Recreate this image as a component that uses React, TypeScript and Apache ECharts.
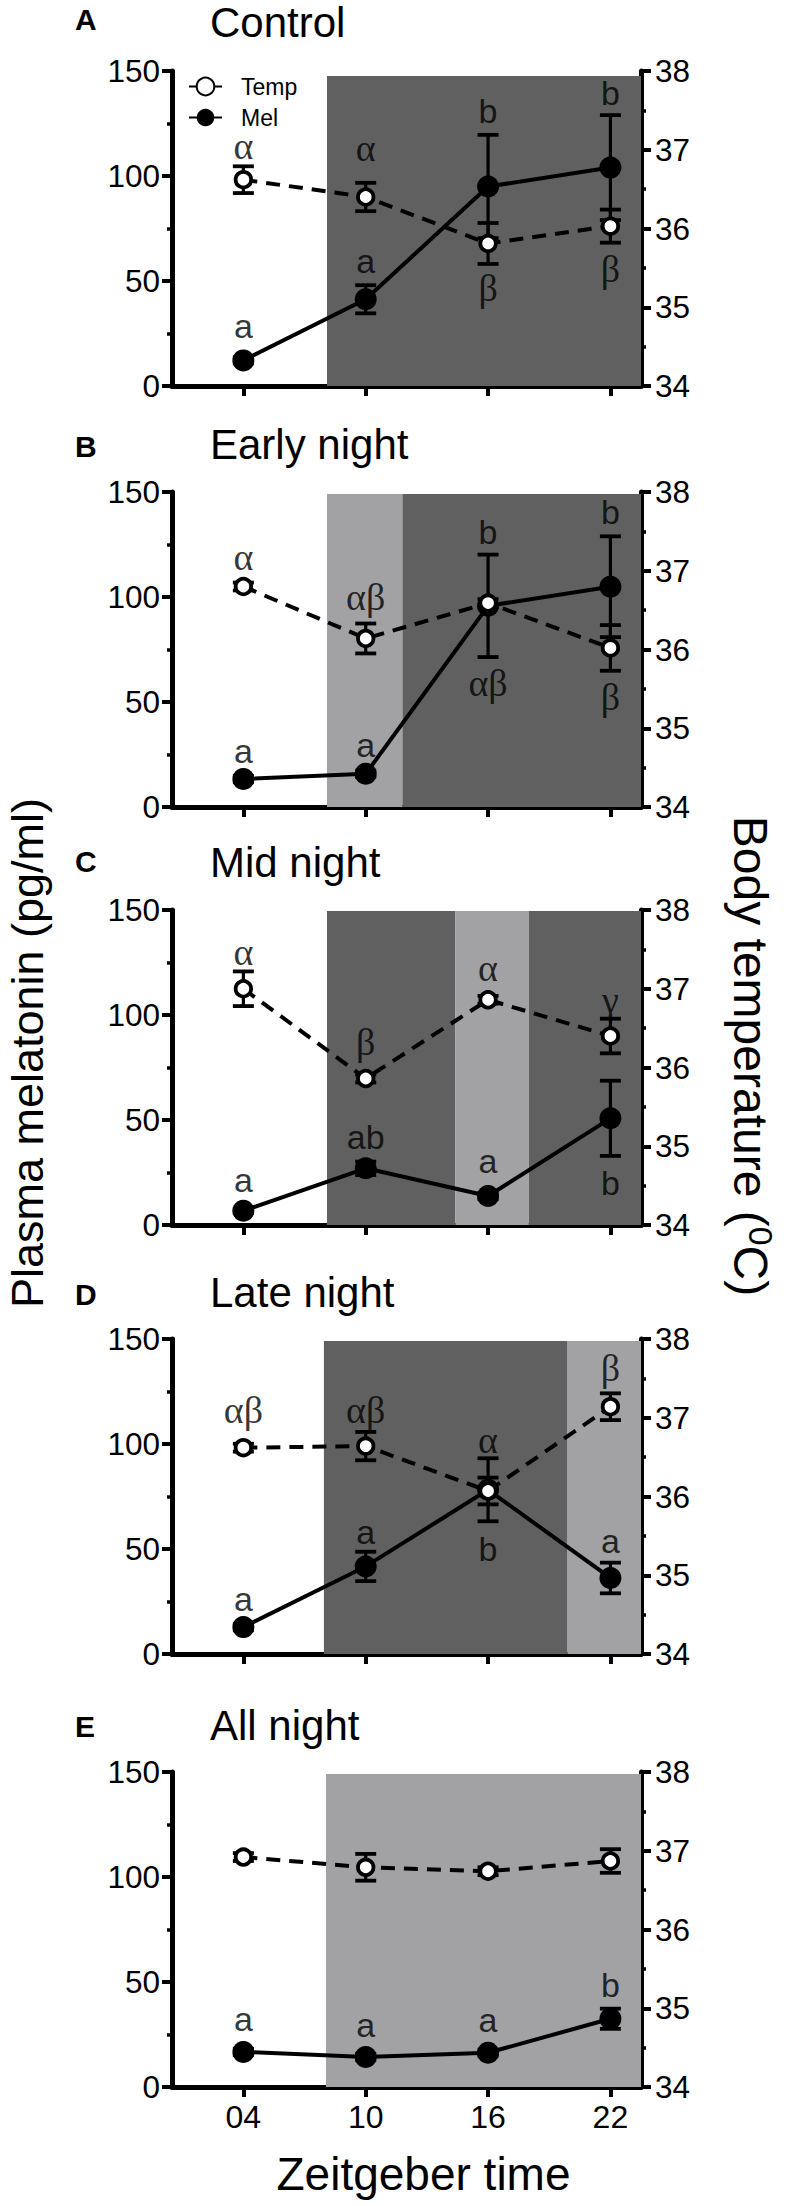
import React, { useEffect, useRef } from "react";
import * as echarts from "echarts";

// ---------- data ----------
const zt = [4, 10, 16, 22];
const ztLabels = ["04", "10", "16", "22"];
const panelLetters = ["A", "B", "C", "D", "E"];
const panelTitles = ["Control", "Early night", "Mid night", "Late night", "All night"];

// Plasma melatonin (pg/ml), mean and SEM
const melA = [12.2, 41.3, 95.0, 104.0];
const melErrA = [1.5, 6.7, 24.6, 25.0];
const melB = [13.3, 15.8, 95.8, 104.9];
const melErrB = [1.5, 1.5, 24.4, 24.0];
const melC = [6.8, 27.0, 13.8, 50.8];
const melErrC = [1.0, 3.2, 1.5, 17.9];
const melD = [12.8, 41.7, 78.2, 36.2];
const melErrD = [1.5, 7.0, 15.0, 7.3];
const melE = [16.7, 14.3, 16.3, 32.5];
const melErrE = [1.5, 1.5, 1.5, 4.8];

// Body temperature (°C), mean and SEM
const tempA = [36.62, 36.4, 35.81, 36.03];
const tempErrA = [0.17, 0.18, 0.26, 0.21];
const tempB = [36.8, 36.14, 36.59, 36.02];
const tempErrB = [0.05, 0.19, 0.05, 0.29];
const tempC = [37.0, 35.86, 36.86, 36.4];
const tempErrC = [0.22, 0.05, 0.05, 0.22];
const tempD = [36.62, 36.64, 36.07, 37.14];
const tempErrD = [0.05, 0.18, 0.17, 0.17];
const tempE = [36.92, 36.79, 36.74, 36.87];
const tempErrE = [0.05, 0.17, 0.05, 0.15];

// significance letters (position given in melatonin-axis units)
const melLettersA = ["a", "a", "b", "b"];
const melLetterYA = [28.6, 59.5, 131, 139.7];
const melLettersB = ["a", "a", "b", "b"];
const melLetterYB = [26.8, 29.6, 131, 140.5];
const melLettersC = ["a", "ab", "a", "b"];
const melLetterYC = [21.4, 42.1, 30.6, 20.2];
const melLettersD = ["a", "a", "b", "a"];
const melLetterYD = [26.2, 58.3, 49.9, 53.6];
const melLettersE = ["a", "a", "a", "b"];
const melLetterYE = [32.5, 29.4, 31.7, 48.4];

const tempLettersA = ["α", "α", "β", "β"];
const tempLetterYA = [114.3, 113.5, 46.8, 55.6];
const tempLettersB = ["α", "αβ", "αβ", "β"];
const tempLetterYB = [119.1, 100.1, 58.9, 52.6];
const tempLettersC = ["α", "β", "α", "γ"];
const tempLetterYC = [130.2, 87.3, 122.2, 107.1];
const tempLettersD = ["αβ", "αβ", "α", "β"];
const tempLetterYD = [116.2, 116.2, 102, 136.1];
const tempLettersE: string[] = [];
const tempLetterYE: number[] = [];

// shaded periods [start ZT, end ZT, kind]
const shadeA = [[8.1, 23.5, "dark"]];
const shadeB = [[8.1, 11.8, "light"], [11.8, 23.5, "dark"]];
const shadeC = [[8.1, 14.4, "dark"], [14.4, 18.0, "light"], [18.0, 23.5, "dark"]];
const shadeD = [[7.95, 19.9, "dark"], [19.9, 23.5, "light"]];
const shadeE = [[8.05, 23.5, "light"]];

// ---------- layout / style ----------
const FONT = "'Liberation Sans', Arial, Helvetica, sans-serif";
const SERIF = "'Liberation Serif', 'Times New Roman', serif";
const DARK = "#606060";
const LIGHT = "#a2a2a5";
const TOPS = [71, 492, 910, 1339, 1772];
const GRID_LEFT = 172;
const GRID_W = 469;
const GRID_H = 315;
const LETTER_BASE = [41, 35, 38, 34, 35];
const TITLE_BASE = [34, 33, 33, 32, 32];
const SHADE_TOP = [147.6, 149, 149.5, 149, 149];

const panels = [
  { mel: melA, melErr: melErrA, temp: tempA, tempErr: tempErrA, ml: melLettersA, my: melLetterYA, tl: tempLettersA, ty: tempLetterYA, shade: shadeA },
  { mel: melB, melErr: melErrB, temp: tempB, tempErr: tempErrB, ml: melLettersB, my: melLetterYB, tl: tempLettersB, ty: tempLetterYB, shade: shadeB },
  { mel: melC, melErr: melErrC, temp: tempC, tempErr: tempErrC, ml: melLettersC, my: melLetterYC, tl: tempLettersC, ty: tempLetterYC, shade: shadeC },
  { mel: melD, melErr: melErrD, temp: tempD, tempErr: tempErrD, ml: melLettersD, my: melLetterYD, tl: tempLettersD, ty: tempLetterYD, shade: shadeD },
  { mel: melE, melErr: melErrE, temp: tempE, tempErr: tempErrE, ml: melLettersE, my: melLetterYE, tl: tempLettersE, ty: tempLetterYE, shade: shadeE },
];

function errSeries(i: number, yIdx: number, vals: number[], errs: number[]) {
  return {
    type: "custom",
    xAxisIndex: i,
    yAxisIndex: yIdx,
    z: 2,
    silent: true,
    data: zt.map((x, j) => [x, vals[j], errs[j]]),
    encode: { x: 0, y: 1 },
    renderItem: (_params: any, api: any) => {
      const x = api.value(0);
      const y = api.value(1);
      const e = api.value(2);
      const t = api.coord([x, y + e]);
      const b = api.coord([x, y - e]);
      const hw = 10.5;
      return {
        type: "group",
        children: [
          { type: "line", shape: { x1: t[0], y1: t[1], x2: b[0], y2: b[1] }, style: { stroke: "#000", lineWidth: 3.2 } },
          { type: "line", shape: { x1: t[0] - hw, y1: t[1], x2: t[0] + hw, y2: t[1] }, style: { stroke: "#000", lineWidth: 3.8 } },
          { type: "line", shape: { x1: b[0] - hw, y1: b[1], x2: b[0] + hw, y2: b[1] }, style: { stroke: "#000", lineWidth: 3.8 } },
        ],
      };
    },
  };
}

function buildOption() {
  const grid = panels.map((_, i) => ({ left: GRID_LEFT, top: TOPS[i], width: GRID_W, height: GRID_H }));
  const xAxis = panels.map((_, i) => ({
    type: "value",
    gridIndex: i,
    min: 0.5,
    max: 23.5,
    axisLine: { show: true, onZero: false, lineStyle: { color: "#000", width: 5 } },
    axisTick: { show: true, customValues: zt, length: 10, lineStyle: { color: "#000", width: 4 } },
    axisLabel: {
      show: i === 4,
      customValues: zt,
      formatter: (v: number) => {
        const k = zt.indexOf(Math.round(v));
        return k >= 0 ? ztLabels[k] : "";
      },
      fontSize: 32,
      fontFamily: FONT,
      color: "#000",
      margin: 14,
    },
    splitLine: { show: false },
  }));
  const yAxis: any[] = [];
  panels.forEach((_, i) => {
    yAxis.push({
      type: "value",
      gridIndex: i,
      position: "left",
      min: 0,
      max: 150,
      interval: 50,
      axisLine: { show: true, onZero: false, lineStyle: { color: "#000", width: 5 } },
      axisTick: { show: true, length: 10, lineStyle: { color: "#000", width: 4 } },
      minorTick: { show: true, splitNumber: 2, length: 5, lineStyle: { color: "#000", width: 3.5 } },
      axisLabel: { fontSize: 31.5, fontFamily: FONT, color: "#000", margin: 12 },
      splitLine: { show: false },
      minorSplitLine: { show: false },
    });
    yAxis.push({
      type: "value",
      gridIndex: i,
      position: "right",
      min: 34,
      max: 38,
      interval: 1,
      axisLine: { show: true, onZero: false, lineStyle: { color: "#000", width: 5 } },
      axisTick: { show: true, length: 10, lineStyle: { color: "#000", width: 4 } },
      minorTick: { show: true, splitNumber: 2, length: 5, lineStyle: { color: "#000", width: 3.5 } },
      axisLabel: { fontSize: 31.5, fontFamily: FONT, color: "#000", margin: 14 },
      splitLine: { show: false },
      minorSplitLine: { show: false },
    });
  });

  const series: any[] = [];
  panels.forEach((p, i) => {
    series.push({
      type: "line",
      name: "shade" + i,
      xAxisIndex: i,
      yAxisIndex: 2 * i,
      data: [],
      z: 1,
      silent: true,
      markArea: {
        silent: true,
        data: p.shade.map(([s, e, c]) => [
          { xAxis: s, yAxis: 0, itemStyle: { color: c === "dark" ? DARK : LIGHT } },
          { xAxis: e, yAxis: SHADE_TOP[i] },
        ]),
      },
    });
    series.push(errSeries(i, 2 * i, p.mel, p.melErr));
    series.push(errSeries(i, 2 * i + 1, p.temp, p.tempErr));
    series.push({
      type: "line",
      name: "Mel",
      xAxisIndex: i,
      yAxisIndex: 2 * i,
      z: 3,
      silent: true,
      data: zt.map((x, j) => [x, p.mel[j]]),
      symbol: "circle",
      symbolSize: 22,
      itemStyle: { color: "#000" },
      lineStyle: { color: "#000", width: 4 },
    });
    series.push({
      type: "line",
      name: "Temp",
      xAxisIndex: i,
      yAxisIndex: 2 * i + 1,
      z: 4,
      silent: true,
      data: zt.map((x, j) => [x, p.temp[j]]),
      symbol: "circle",
      symbolSize: 15.5,
      itemStyle: { color: "#fff", borderColor: "#000", borderWidth: 3.8 },
      lineStyle: { color: "#000", width: 4, type: [14, 9] },
    });
    series.push({
      type: "scatter",
      xAxisIndex: i,
      yAxisIndex: 2 * i,
      z: 6,
      silent: true,
      symbol: "circle",
      symbolSize: 1,
      itemStyle: { color: "rgba(0,0,0,0)" },
      data: p.ml.map((t, j) => ({ name: t, value: [zt[j], p.my[j]] })),
      label: { show: true, position: "inside", formatter: "{b}", fontSize: 34, fontFamily: FONT, color: "#000" },
    });
    series.push({
      type: "scatter",
      xAxisIndex: i,
      yAxisIndex: 2 * i,
      z: 6,
      silent: true,
      symbol: "circle",
      symbolSize: 1,
      itemStyle: { color: "rgba(0,0,0,0)" },
      data: p.tl.map((t, j) => ({ name: t, value: [zt[j], p.ty[j]] })),
      label: { show: true, position: "inside", formatter: "{b}", fontSize: 38, fontFamily: SERIF, color: "#000" },
    });
  });

  const graphic: any[] = [];
  panels.forEach((_, i) => {
    graphic.push({
      type: "text",
      x: 75,
      y: TOPS[i] - LETTER_BASE[i] - 0.3465 * 30,
      style: { text: panelLetters[i], fontSize: 30, fontWeight: "bold", fontFamily: FONT, fill: "#000", align: "left", verticalAlign: "middle" },
    });
    graphic.push({
      type: "text",
      x: 210,
      y: TOPS[i] - TITLE_BASE[i] - 0.3465 * 42,
      style: { text: panelTitles[i], fontSize: 42, fontFamily: FONT, fill: "#000", align: "left", verticalAlign: "middle" },
    });
  });
  graphic.push({
    type: "text",
    x: 27,
    y: 1053,
    rotation: Math.PI / 2,
    style: { text: "Plasma melatonin (pg/ml)", fontSize: 45, lineHeight: 45, fontFamily: FONT, fill: "#000", align: "center", verticalAlign: "middle" },
  });
  graphic.push({
    type: "text",
    x: 750.5,
    y: 1056,
    rotation: -Math.PI / 2,
    style: {
      text: "{n|Body temperature (}{s|0}{n|C)}",
      align: "center",
      verticalAlign: "middle",
      rich: {
        n: { fontSize: 48, fontFamily: FONT, fill: "#000", lineHeight: 54 },
        s: { fontSize: 34, fontFamily: FONT, fill: "#000", lineHeight: 34, verticalAlign: "top" },
      },
    },
  });
  graphic.push({
    type: "text",
    x: 423.5,
    y: 2174,
    style: { text: "Zeitgeber time", fontSize: 46, fontFamily: FONT, fill: "#000", align: "center", verticalAlign: "middle" },
  });

  return {
    animation: false,
    backgroundColor: "#fff",
    textStyle: { fontFamily: FONT },
    grid,
    xAxis,
    yAxis,
    series,
    graphic,
    legend: {
      data: ["Temp", "Mel"],
      orient: "vertical",
      left: 183,
      top: 70,
      itemWidth: 33,
      itemHeight: 22,
      itemGap: 8,
      selectedMode: false,
      textStyle: { fontSize: 23, fontFamily: FONT, color: "#000", padding: [0, 0, 0, 14] },
    },
  };
}

export default function App() {
  const ref = useRef<HTMLDivElement>(null);
  useEffect(() => {
    document.body.style.margin = "0";
    document.body.style.overflow = "hidden";
    if (!ref.current) return;
    const chart = echarts.init(ref.current, undefined, { renderer: "svg" });
    chart.setOption(buildOption() as any);
    return () => chart.dispose();
  }, []);
  return <div ref={ref} style={{ width: 794, height: 2206 }} />;
}
